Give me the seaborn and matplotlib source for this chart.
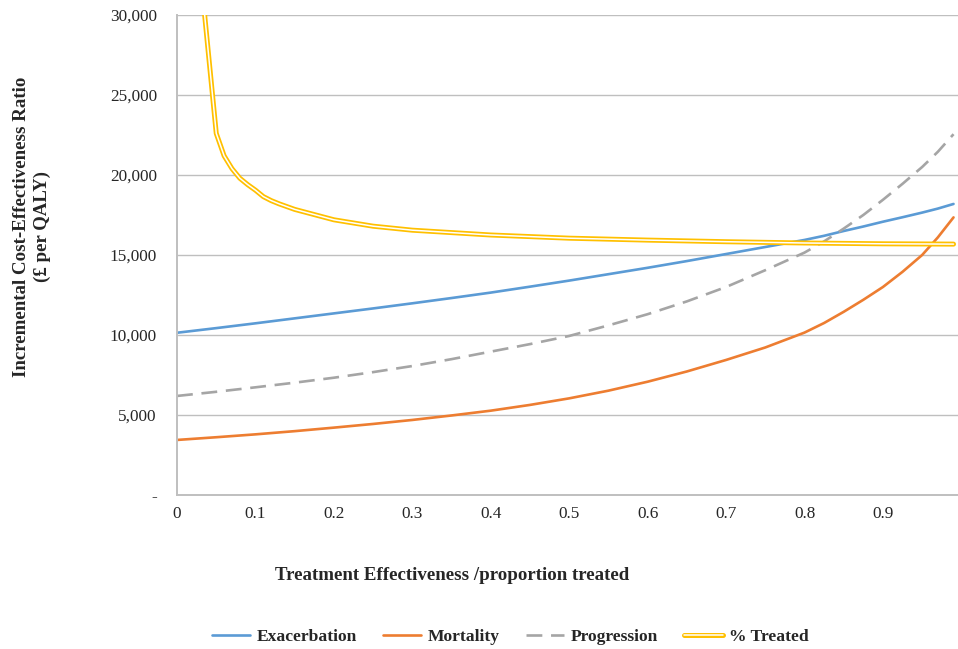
import numpy as np
import pandas as pd
import matplotlib
matplotlib.use('Agg')
import matplotlib.pyplot as plt
import matplotlib.patheffects as pe
import seaborn as sns
from matplotlib.lines import Line2D

# data
x_main = [0.0, 0.05, 0.10, 0.15, 0.20, 0.25, 0.30, 0.35, 0.40, 0.45, 0.50,
          0.55, 0.60, 0.65, 0.70, 0.75, 0.80, 0.825, 0.85, 0.875, 0.90,
          0.925, 0.95, 0.97, 0.99]
exacerbation = [10140, 10430, 10730, 11040, 11350, 11660, 11980, 12310, 12650, 13020, 13400,
                13800, 14200, 14620, 15060, 15500, 15940, 16200, 16500, 16780, 17080,
                17360, 17650, 17900, 18190]
mortality = [3440, 3610, 3790, 3990, 4210, 4440, 4690, 4970, 5270, 5630, 6040,
             6520, 7080, 7720, 8440, 9220, 10150, 10750, 11450, 12200, 13000,
             13950, 15000, 16100, 17350]
progression = [6190, 6450, 6730, 7020, 7330, 7680, 8060, 8490, 8960, 9430, 9940,
               10600, 11300, 12100, 13000, 14050, 15150, 15850, 16650, 17500, 18450,
               19450, 20500, 21450, 22550]

x_treated = [0.03, 0.04, 0.05, 0.06, 0.07, 0.08, 0.09, 0.10, 0.11, 0.12, 0.13, 0.15,
             0.20, 0.25, 0.30, 0.35, 0.40, 0.50, 0.60, 0.70, 0.80, 0.90, 0.99]
treated = [32600, 27600, 22600, 21200, 20400, 19800, 19400, 19050, 18650, 18400, 18200, 17850,
           17200, 16800, 16550, 16400, 16250, 16050, 15930, 15830, 15750, 15700, 15680]

y_ticks = [0, 5000, 10000, 15000, 20000, 25000, 30000]
y_labels = ['-', '5,000', '10,000', '15,000', '20,000', '25,000', '30,000']
x_ticks = [0, 0.1, 0.2, 0.3, 0.4, 0.5, 0.6, 0.7, 0.8, 0.9]
x_labels = ['0', '0.1', '0.2', '0.3', '0.4', '0.5', '0.6', '0.7', '0.8', '0.9']

df = pd.DataFrame({'x': x_main, 'Exacerbation': exacerbation,
                   'Mortality': mortality, 'Progression': progression})
df_t = pd.DataFrame({'x': x_treated, 'treated': treated})

sns.set_style('white')
plt.rcParams['font.family'] = ['Liberation Serif', 'DejaVu Serif']

blue = '#5B9BD5'
orange = '#ED7D31'
grey = '#A5A5A5'
yellow = '#FFC000'
grid_c = '#BFBFBF'
dash = (6, 3.3)
double = [pe.Stroke(linewidth=3.6, foreground=yellow), pe.Normal()]

fig = plt.figure(figsize=(9.58, 6.49), dpi=100)
ax = fig.add_axes([0.1848, 0.2373, 0.8152, 0.7396])

ax.grid(axis='y', color=grid_c, linewidth=1.0)
ax.set_axisbelow(True)

sns.lineplot(data=df, x='x', y='Exacerbation', ax=ax, color=blue, linewidth=1.9, legend=False)
sns.lineplot(data=df, x='x', y='Mortality', ax=ax, color=orange, linewidth=1.9, legend=False)
sns.lineplot(data=df, x='x', y='Progression', ax=ax, color=grey, linewidth=1.9, legend=False)
ax.lines[-1].set_dashes(dash)
# double line: thin white core over a thick yellow stroke
sns.lineplot(data=df_t, x='x', y='treated', ax=ax, color='white', linewidth=1.1, legend=False)
ax.lines[-1].set_path_effects(double)

ax.set_xlim(0, 0.9957)
ax.set_ylim(0, 30000)
ax.set_xticks(x_ticks)
ax.set_xticklabels(x_labels)
ax.set_yticks(y_ticks)
ax.set_yticklabels(y_labels)
ax.tick_params(axis='x', length=4, width=1, color=grid_c, pad=4, labelsize=12.4)
ax.tick_params(axis='y', length=3.5, width=1, color=grid_c, pad=11, labelsize=12.4)
ax.set_xlabel('')
ax.set_ylabel('')

for side in ['top', 'right']:
    ax.spines[side].set_visible(False)
for side in ['left', 'bottom']:
    ax.spines[side].set_color(grid_c)
    ax.spines[side].set_linewidth(1.4)

fig.text(32 / 958, 1 - 227 / 649, 'Incremental Cost-Effectiveness Ratio\n(£ per QALY)',
         rotation=90, ha='center', va='center', multialignment='center',
         fontsize=13.6, fontweight='bold', linespacing=1.3)
fig.text(452 / 958, 1 - 575 / 649, 'Treatment Effectiveness /proportion treated',
         ha='center', va='center', fontsize=13.6, fontweight='bold')

h_exa = Line2D([], [], color=blue, linewidth=1.9)
h_mor = Line2D([], [], color=orange, linewidth=1.9)
h_pro = Line2D([], [], color=grey, linewidth=1.9, dashes=dash)
h_tr = Line2D([], [], color='white', linewidth=1.1, path_effects=double)
fig.legend([h_exa, h_mor, h_pro, h_tr], ['Exacerbation', 'Mortality', 'Progression', '% Treated'],
           loc='center', bbox_to_anchor=(510 / 958, 1 - 637 / 649), ncol=4, frameon=False,
           prop={'weight': 'bold', 'size': 12.6}, handlelength=2.2, handletextpad=0.35,
           columnspacing=1.5)

plt.savefig('out.png', dpi=100)
